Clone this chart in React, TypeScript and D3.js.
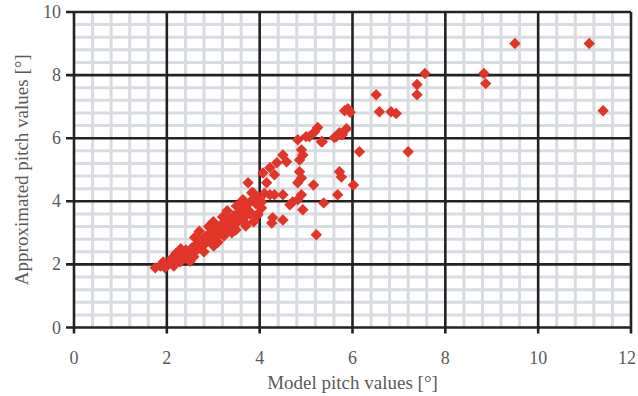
import React from "react";
import * as d3 from "d3";

const xTicks = [0, 2, 4, 6, 8, 10, 12];
const yTicks = [0, 2, 4, 6, 8, 10];
const xLabel = "Model pitch values [°]";
const yLabel = "Approximated pitch values [°]";

const modelX = [
  9.5, 11.1, 11.4, 8.83, 8.87, 7.56, 7.39, 7.39, 6.51, 6.58, 6.83, 6.94,
  5.83, 5.9, 5.95, 6.15, 7.2, 5.25, 5.87, 5.78, 5.65, 5.35, 5.0, 4.9,
  5.72, 5.76, 6.02, 5.68, 5.38, 5.22, 5.16, 4.9, 4.82, 4.86, 4.9, 4.71,
  4.82, 4.93, 4.65, 4.5, 4.32, 4.22, 4.28, 4.5, 4.26, 4.04, 3.86, 3.79,
  3.75, 4.15, 4.07, 4.22, 4.32, 4.37, 4.5, 4.58, 4.86, 4.93, 4.82, 5.07,
  5.33, 5.61, 5.72, 5.18, 3.64, 3.79,
  1.75, 1.86, 1.96, 1.92, 2.07, 2.11, 2.2, 2.24, 2.33, 2.39, 2.41, 2.5,
  2.54, 2.61, 2.64, 2.71, 2.76, 2.82, 2.85, 2.93, 2.97, 3.04, 3.1, 3.14,
  3.19, 3.27, 3.32, 3.4, 3.44, 3.53, 3.57, 3.66, 3.7, 3.79, 3.87, 3.92,
  3.96, 4.04, 2.29, 2.58, 3.01, 3.23, 3.49, 3.7, 2.46, 3.83, 3.36, 3.21,
  2.3, 2.6, 2.9, 3.2, 3.5, 3.3, 2.5, 2.8, 3.1, 3.4, 3.7, 3.95,
  2.0, 2.15, 3.95, 4.1, 2.7, 3.0, 3.6, 2.2,
];
const approxY = [
  9.0, 9.0, 6.87, 8.05, 7.73, 8.05, 7.7, 7.38, 7.38, 6.84, 6.84, 6.78,
  6.87, 6.93, 6.82, 5.57, 5.57, 6.34, 6.3, 6.11, 6.05, 5.89, 6.05, 5.63,
  4.94, 4.77, 4.52, 4.21, 3.95, 2.94, 4.52, 4.74, 4.59, 4.94, 4.21, 3.98,
  4.05, 3.73, 3.89, 4.21, 4.21, 4.21, 3.48, 3.41, 3.31, 3.98, 4.27, 3.98,
  4.59, 4.59, 4.9, 5.06, 4.84, 5.22, 5.47, 5.25, 5.31, 5.47, 5.95, 6.05,
  5.89, 6.02, 6.17, 6.2, 4.05, 3.67,
  1.89, 1.95, 1.89, 2.08, 2.08, 2.2, 2.08, 2.27, 2.33, 2.2, 2.46, 2.4,
  2.52, 2.4, 2.65, 2.58, 2.78, 2.65, 2.9, 2.78, 3.03, 2.9, 3.16, 2.97,
  3.29, 3.1, 3.41, 3.22, 3.54, 3.35, 3.67, 3.48, 3.79, 3.6, 3.35, 3.92,
  3.6, 3.79, 2.08, 2.24, 2.58, 2.9, 3.1, 3.22, 2.2, 4.27, 3.41, 3.2,
  2.5, 2.85, 3.2, 3.5, 3.85, 3.7, 2.1, 2.4, 2.7, 3.0, 3.3, 3.55,
  1.95, 1.95, 4.1, 4.25, 3.05, 3.35, 3.95, 2.35,
];

const W = 638;
const H = 396;
const left = 74;
const right = 631;
const top = 12;
const bottom = 327.5;

export default function App() {
  const x = d3.scaleLinear().domain([0, 12]).range([left, right]);
  const y = d3.scaleLinear().domain([0, 10]).range([bottom, top]);
  const minorX = d3.range(0, 12.001, 0.4).filter((v) => Math.abs(v / 2 - Math.round(v / 2)) > 1e-6);
  const minorY = d3.range(0, 10.001, 0.4).filter((v) => Math.abs(v / 2 - Math.round(v / 2)) > 1e-6);
  const diamond = d3.symbol().type(d3.symbolDiamond2).size(84)();
  const font = "'Liberation Serif', 'Times New Roman', serif";
  const textColor = "#5a5a5a";
  return (
    <svg width={W} height={H} style={{ position: "absolute", left: 0, top: 0, background: "#fff" }}>
      <rect x={left} y={top} width={right - left} height={bottom - top} fill="#fff" />
      {minorX.map((v) => (
        <line key={"mx" + v} x1={x(v)} x2={x(v)} y1={top} y2={bottom} stroke="#d8dce0" strokeWidth={3} />
      ))}
      {minorY.map((v) => (
        <line key={"my" + v} x1={left} x2={right} y1={y(v)} y2={y(v)} stroke="#d8dce0" strokeWidth={3} />
      ))}
      {xTicks.map((v) => (
        <line key={"gx" + v} x1={x(v)} x2={x(v)} y1={top} y2={bottom + 6} stroke="#222" strokeWidth={2.6} />
      ))}
      {yTicks.map((v) => (
        <line key={"gy" + v} x1={left - 8} x2={right} y1={y(v)} y2={y(v)} stroke="#222" strokeWidth={2.6} />
      ))}
      {xTicks.map((v) => (
        <text
          key={"tx" + v}
          x={Math.min(x(v), W - 11)}
          y={bottom + 36}
          textAnchor="middle"
          fontFamily={font}
          fontSize={18}
          fill={textColor}
        >
          {v}
        </text>
      ))}
      {yTicks.map((v) => (
        <text key={"ty" + v} x={left - 13} y={y(v) + 6} textAnchor="end" fontFamily={font} fontSize={18} fill={textColor}>
          {v}
        </text>
      ))}
      {modelX.map((v, i) => (
        <path key={"p" + i} d={diamond} transform={`translate(${x(v)},${y(approxY[i])})`} fill="#e2352a" />
      ))}
      <text x={(left + right) / 2} y={389} textAnchor="middle" fontFamily={font} fontSize={19} fill={textColor}>
        {xLabel}
      </text>
      <text
        transform={`translate(28,${(top + bottom) / 2}) rotate(-90)`}
        textAnchor="middle"
        fontFamily={font}
        fontSize={19}
        fill={textColor}
      >
        {yLabel}
      </text>
    </svg>
  );
}
